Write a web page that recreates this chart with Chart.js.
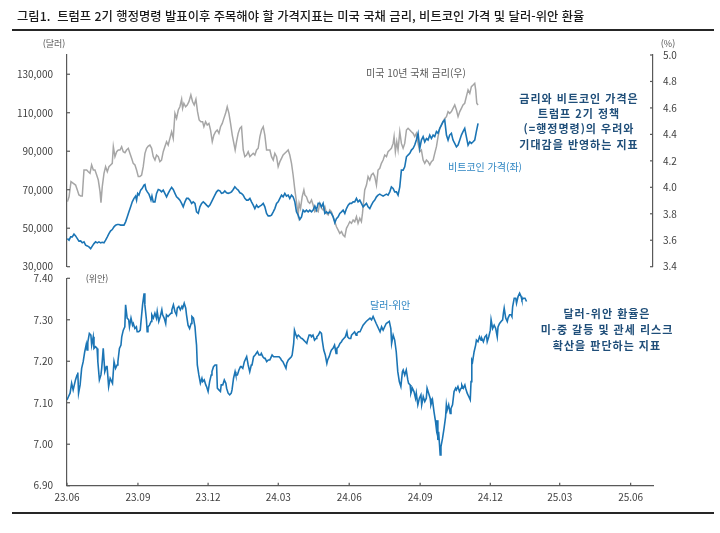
<!DOCTYPE html>
<html lang="ko"><head><meta charset="utf-8">
<title>chart</title>
<script src="https://cdn.jsdelivr.net/npm/chart.js@4.4.1/dist/chart.umd.min.js"></script>
<style>
html,body{margin:0;padding:0;background:#fff;}
#wrap{position:relative;width:720px;height:533px;overflow:hidden;background:#fff;font-family:"Noto Sans CJK KR","Noto Sans",sans-serif;}
#wrap canvas{position:absolute;left:0;top:0;}
.tx{position:absolute;white-space:nowrap;line-height:1;}
.rule{position:absolute;left:12px;width:702px;height:2px;background:#262626;}
.note{position:absolute;text-align:center;font-weight:700;font-size:11px;color:#1f4e79;letter-spacing:1px;line-height:15.4px;white-space:nowrap;transform:translateX(-50%);}
</style></head>
<body><div id="wrap">
<canvas id="cBottom" width="720" height="533"></canvas>
<canvas id="cTop" width="720" height="533"></canvas>
<div class="tx" style="left:17px;top:16px;transform:translateY(-50%);font-size:12.3px;font-weight:500;color:#1a1a1a;">그림1.&nbsp;&nbsp;트럼프 2기 행정명령 발표이후 주목해야 할 가격지표는 미국 국채 금리, 비트코인 가격 및 달러-위안 환율</div>
<div class="rule" style="top:29px"></div>
<div class="rule" style="top:512px"></div>
<div class="tx" style="left:54px;top:43px;transform:translate(-50%,-50%);font-size:9px;color:#595959;">(달러)</div>
<div class="tx" style="left:668px;top:43px;transform:translate(-50%,-50%);font-size:9px;color:#595959;">(%)</div>
<div class="tx" style="left:97px;top:278px;transform:translate(-50%,-50%);font-size:9px;color:#595959;">(위안)</div>
<div class="tx" style="left:366px;top:73px;transform:translateY(-50%);font-size:10px;color:#595959;">미국 10년 국채 금리(우)</div>
<div class="tx" style="left:448px;top:167px;transform:translateY(-50%);font-size:10px;color:#2f86c3;">비트코인 가격(좌)</div>
<div class="tx" style="left:370px;top:305px;transform:translateY(-50%);font-size:10px;color:#2f86c3;">달러-위안</div>
<div class="note" style="left:579px;top:90.6px;">금리와 비트코인 가격은<br>트럼프 2기 정책<br>(=행정명령)의 우려와<br>기대감을 반영하는 지표</div>
<div class="note" style="left:607px;top:306.4px;line-height:15.9px;">달러-위안 환율은<br>미-중 갈등 및 관세 리스크<br>확산을 판단하는 지표</div>
</div>
<script>
// ---------- Top panel: days since 2024-01-01 ----------
const btcDays = [
1.3,2.9,4.4,5.9,7.5,9.0,10.6,12.1,13.7,15.2,
16.8,18.3,19.9,21.4,23.0,24.5,26.1,27.6,29.2,30.7,
32.3,33.8,35.4,36.9,38.5,40.0,41.6,43.1,44.7,46.2,
47.8,49.3,50.9,52.4,54.0,55.5,57.1,58.6,60.2,61.7,
63.3,64.8,65.7,66.7,67.9,69.5,71.0,72.6,73.5,74.4,
75.7,77.2,78.1,79.1,80.0,81.2,82.8,84.3,85.9,87.4,
88.9,90.5,92.0,93.6,95.1,96.7,98.3,99.8,101.4,102.9,
104.5,106.0,107.6,109.1,110.7,112.2,113.8,115.3,116.9,118.4,
120.0,121.5,123.1,124.6,126.2,127.7,129.3,130.8,132.4,133.9,
135.4,137.0,138.5,140.1,141.6,143.2,144.7,146.3,147.8,149.4,
150.9,152.5,154.0,155.6,157.1,158.7,160.2,161.8,163.3,164.9,
166.4,168.0,169.5,171.1,172.6,174.2,175.7,177.3,178.8,180.4,
181.9,183.5,185.0,186.6,
188.1,189.7,191.2,192.8,194.3,195.9,197.4,199.0,200.5,202.0,
203.6,205.1,206.7,208.2,209.8,211.3,212.9,214.4,216.0,217.5,
219.1,220.6,222.2,223.7,225.3,226.8,228.4,229.9,231.5,233.0,
234.6,236.1,237.7,239.2,240.8,242.3,243.9,245.4,246.9,248.5,
250.1,251.6,253.2,254.7,256.3,257.8,259.4,260.9,262.5,264.0,
265.6,267.1,268.6,270.2,271.7,273.3,274.8,276.4,277.9,279.5,
281.0,282.6,284.1,285.7,287.2,288.8,290.3,291.9,293.4,295.0,
296.5,298.1,299.6,301.2,302.7,304.3,305.8,307.4,308.9,310.5,
312.0,313.6,315.1,316.7,318.2,319.8,321.3,322.9,324.4,325.9,
327.5,329.1,330.6,332.2,333.7,335.3,336.8,338.4,339.9,341.5,
343.0,344.6,346.1,347.7,349.2,350.8,352.3,353.9,355.4,356.9,
358.5,360.0,361.6,363.2,364.7,366.3,367.8,369.3,370.9,372.4,
374.0,375.6,377.1,378.7,380.2,381.7,383.3
];
const btcPrice = [
44600,43800,45500,45500,46900,46000,44600,43300,43400,42400,
42900,41200,40800,40300,39400,40700,42000,42900,42400,42900,
42400,42700,42400,43800,45500,47200,48600,49300,50700,51600,
51900,51900,51600,51600,51600,53300,55900,58500,61100,63700,
65500,66700,64600,68100,67200,69800,70700,72400,72700,70100,
68900,67700,66300,64600,66700,63700,63700,68100,70100,69800,
68900,69800,68100,66300,68100,69800,71200,70100,68100,66300,
65500,64600,62900,61100,63700,65500,65500,64600,62900,63700,
62900,58500,57700,61100,62900,63700,62900,62000,61100,62000,
63700,65500,67200,68900,69800,69400,68100,68400,69400,68400,
68100,68400,68900,70100,71500,70500,69800,68400,68100,67200,
65500,64600,64600,65500,63700,62000,60200,62000,60800,61500,
62000,62900,61100,57700,
56400,56400,56800,58500,60200,62900,63700,65500,67200,66300,
68100,66700,67200,65500,67200,66300,63700,58500,56800,54500,
55900,59400,58500,59400,58500,59400,58500,59400,61500,59400,
62900,62900,61100,62900,57700,58500,57700,58500,57700,55900,
52800,55000,55900,57700,58500,59400,57700,60200,62000,62900,
62900,63700,63700,65500,63700,64600,62900,61100,62000,62900,
61100,60200,62000,63700,64600,66300,67200,67700,67200,66700,
67200,67700,67200,68900,71500,70700,68900,68900,67200,71500,
80200,80200,81900,87100,88000,88900,90600,91500,93200,95800,
99300,91500,95800,97600,94900,96600,95800,98400,96600,98400,
97600,100200,99300,101900,103600,105400,106200,98400,95800,98400,
99300,95800,94100,92300,93200,95800,98400,100200,101900,97600,
93200,94900,94100,94900,95800,100200,104500
];
const ustDays = [
1.3,2.9,4.7,6.9,9.0,10.6,12.1,13.7,15.2,16.8,
19.3,20.8,22.4,23.9,25.5,27.0,28.6,30.1,31.7,32.6,
33.8,35.4,36.9,38.5,40.0,41.6,43.1,44.1,45.6,47.2,
48.7,50.3,51.8,53.3,54.9,56.4,58.0,59.5,61.1,62.6,
64.2,65.7,67.3,68.8,70.4,71.9,73.5,75.0,76.6,78.1,
79.7,81.2,82.8,84.3,85.9,87.4,88.9,90.5,92.0,93.6,
95.1,96.7,98.3,99.8,101.4,102.9,104.5,106.0,107.6,108.5,
109.7,111.3,112.8,114.4,116.2,117.8,119.3,120.9,122.4,123.9,
125.5,127.1,128.3,129.9,131.4,133.0,134.5,136.1,137.6,139.2,
140.7,142.3,143.8,145.4,146.9,148.5,150.0,151.6,153.1,154.7,
156.2,157.4,158.7,160.2,161.8,163.3,164.9,166.4,168.0,169.5,
171.1,172.6,174.2,175.7,177.3,178.8,180.4,181.9,183.5,185.0,
186.6,
188.1,189.7,191.2,192.8,194.3,195.9,197.4,199.0,200.5,202.0,
203.6,205.1,206.7,208.2,209.8,211.3,212.9,214.4,216.0,216.9,
218.2,219.7,221.3,222.2,223.7,225.3,226.8,228.4,229.9,231.5,
233.0,234.6,236.1,237.7,239.2,240.8,242.3,243.9,245.4,246.9,
248.5,250.1,251.6,253.2,254.7,256.3,257.8,259.4,260.9,262.5,
264.0,265.6,267.1,268.6,270.2,271.7,273.3,274.8,275.8,277.0,
277.9,279.5,281.0,282.6,284.1,285.7,287.2,288.8,290.3,291.9,
293.4,295.0,296.5,298.1,299.6,301.2,302.7,304.3,305.2,306.4,
307.7,308.9,310.5,312.0,313.6,315.1,316.7,318.2,319.8,321.3,
322.9,324.4,325.9,327.5,329.1,330.6,332.2,333.7,335.3,336.8,
338.4,339.9,341.5,343.0,344.6,346.1,347.7,349.2,350.8,352.3,
353.9,355.4,356.9,358.5,360.0,361.6,363.2,364.7,366.3,367.8,
369.3,370.9,372.4,374.0,375.6,377.1,378.7,380.2,381.1,382.1,
383.3
];
const ustYield = [
3.891,3.928,4.043,4.030,4.017,3.980,3.942,3.935,3.935,4.131,
4.131,4.118,4.106,4.169,4.131,4.131,4.093,4.055,3.967,3.884,
4.005,4.106,4.156,4.118,4.156,4.169,4.181,4.307,4.232,4.269,
4.282,4.282,4.307,4.269,4.262,4.282,4.295,4.257,4.219,4.181,
4.169,4.131,4.081,4.081,4.093,4.156,4.257,4.295,4.312,4.320,
4.295,4.232,4.206,4.244,4.232,4.194,4.206,4.269,4.307,4.345,
4.320,4.370,4.420,4.370,4.559,4.521,4.584,4.609,4.665,4.597,
4.635,4.609,4.622,4.647,4.698,4.647,4.622,4.665,4.572,4.509,
4.496,4.496,4.458,4.496,4.471,4.483,4.433,4.345,4.395,4.420,
4.433,4.408,4.458,4.483,4.521,4.559,4.609,4.559,4.483,4.395,
4.332,4.282,4.345,4.408,4.446,4.458,4.282,4.232,4.244,4.269,
4.232,4.244,4.257,4.244,4.282,4.295,4.383,4.433,4.458,4.395,
4.282,
4.282,4.282,4.232,4.206,4.257,4.232,4.156,4.194,4.219,4.244,
4.257,4.269,4.282,4.244,4.181,4.093,3.980,3.891,3.791,3.879,
3.841,3.928,3.980,3.942,3.928,3.891,3.879,3.904,3.866,3.816,
3.829,3.816,3.879,3.841,3.829,3.854,3.803,3.791,3.829,3.816,
3.778,3.740,3.702,3.677,3.652,3.665,3.640,3.627,3.690,3.715,
3.740,3.728,3.753,3.740,3.778,3.728,3.766,3.740,3.803,3.904,
3.980,4.017,4.081,4.055,4.093,4.106,4.081,4.017,4.131,4.144,
4.181,4.206,4.244,4.232,4.269,4.282,4.295,4.332,4.383,4.269,
4.345,4.282,4.420,4.332,4.295,4.332,4.433,4.446,4.433,4.420,
4.408,4.383,4.408,4.332,4.269,4.282,4.206,4.181,4.206,4.194,
4.169,4.194,4.206,4.257,4.307,4.383,4.446,4.471,4.496,4.521,
4.534,4.572,4.559,4.572,4.597,4.622,4.584,4.534,4.572,4.597,
4.622,4.635,4.685,4.736,4.710,4.761,4.773,4.786,4.736,4.635,
4.622
];
const btcTicks = [30000, 50000, 70000, 90000, 110000, 130000];
const ustTicks = [3.4, 3.6, 3.8, 4.0, 4.2, 4.4, 4.6, 4.8, 5.0];

// ---------- Bottom panel: days since 2023-06-01 ----------
const cnyDays = [
0,2,4,6,8,11,13,14,15,17,
19,21,23,25,26,27,29,31,32,34,
35,37,39,40,42,44,45,47,49,51,
52,54,56,58,59,61,63,65,66,68,
70,71,73,75,76,78,80,81,83,85,
86,88,90,91,93,95,96,98,100,101,
103,104,105,107,109,110,112,114,116,117,
119,121,123,124,126,128,129,131,133,135,
136,138,140,142,143,145,147,149,150,152,
154,155,157,159,161,162,164,166,167,168,
169,171,173,175,176,178,180,181,183,185,
187,188,190,192,194,195,197,199,200,202,
204,206,207,209,211,213,214,216,218,219,
221,223,225,226,228,230,232,233,235,237,
239,240,242,244,245,247,249,251,252,254,
256,257,259,261,263,264,266,268,270,272,
273,275,277,278,280,282,284,285,287,289,
291,292,294,295,297,298,300,302,304,305,
307,309,311,312,314,316,317,319,321,323,
324,326,328,330,331,333,335,337,338,340,
342,343,345,347,349,350,352,354,356,357,
359,361,363,364,366,368,369,371,373,375,
376,378,380,384,388,393,395,397,401,406,
408,410,414,418,420,421,423,425,427,429,
431,433,435,436,438,440,442,443,445,446,
448,450,452,453,455,457,459,460,462,464,
466,467,469,471,472,474,476,478,479,480,
481,482,484,485,487,489,491,492,493,495,
497,498,500,502,504,505,507,509,511,512,
514,516,517,519,521,523,524,525,526,528,
530,531,533,535,537,538,540,542,544,545,
547,549,550,552,554,556,558,559,561,563,
565,566,567,569,571,572,574,576,577,578,
580,582,583,585,587,589,590,592,594,596
];
const cnyRate = [
7.107,7.115,7.123,7.147,7.131,7.155,7.167,7.173,7.123,7.143,
7.183,7.199,7.223,7.241,7.227,7.246,7.267,7.263,7.239,7.259,
7.231,7.235,7.231,7.199,7.155,7.167,7.183,7.231,7.175,7.187,
7.187,7.139,7.159,7.151,7.147,7.199,7.183,7.191,7.199,7.231,
7.239,7.259,7.275,7.283,7.336,7.304,7.300,7.283,7.304,7.287,
7.291,7.279,7.283,7.271,7.271,7.275,7.296,7.336,7.364,7.336,
7.300,7.271,7.283,7.287,7.296,7.312,7.304,7.316,7.304,7.320,
7.296,7.308,7.324,7.312,7.304,7.291,7.312,7.308,7.312,7.316,
7.324,7.336,7.320,7.312,7.328,7.332,7.324,7.332,7.328,7.340,
7.328,7.312,7.287,7.279,7.291,7.308,7.304,7.283,7.259,7.239,
7.191,7.167,7.147,7.159,7.151,7.155,7.143,7.139,7.127,7.151,
7.167,7.175,7.187,7.191,7.191,7.135,7.131,7.127,7.143,7.143,
7.155,7.147,7.135,7.123,7.119,7.123,7.131,7.159,7.175,7.167,
7.167,7.179,7.187,7.187,7.183,7.199,7.207,7.211,7.191,7.175,
7.191,7.191,7.211,7.215,7.215,7.223,7.215,7.215,7.219,7.211,
7.207,7.207,7.199,7.203,7.203,7.207,7.215,7.211,7.211,7.211,
7.211,7.211,7.207,7.203,7.199,7.191,7.183,7.195,7.203,7.207,
7.211,7.215,7.243,7.275,7.263,7.259,7.263,7.259,7.255,7.255,
7.251,7.247,7.243,7.251,7.263,7.263,7.259,7.263,7.251,7.255,
7.259,7.263,7.271,7.267,7.251,7.227,7.215,7.195,7.203,7.211,
7.223,7.227,7.231,7.239,7.219,7.231,7.235,7.243,7.247,7.251,
7.255,7.259,7.271,7.259,7.255,7.255,7.263,7.267,7.271,7.263,
7.267,7.271,7.271,7.287,7.296,7.304,7.300,7.308,7.291,7.271,
7.283,7.275,7.291,7.296,7.279,7.243,7.263,7.251,7.223,7.175,
7.151,7.139,7.175,7.179,7.167,7.179,7.155,7.147,7.143,7.123,
7.135,7.127,7.111,7.123,7.095,7.111,7.119,7.095,7.115,7.103,
7.111,7.135,7.123,7.111,7.095,7.107,7.078,7.054,7.038,7.058,
7.010,7.030,6.974,6.994,7.014,7.038,7.066,7.095,7.082,7.095,
7.074,7.086,7.095,7.127,7.135,7.131,7.139,7.127,7.135,7.143,
7.135,7.143,7.135,7.123,7.115,7.107,7.151,7.203,7.199,7.223,
7.239,7.251,7.247,7.259,7.251,7.255,7.247,7.259,7.263,7.247,
7.259,7.275,7.300,7.279,7.287,7.279,7.259,7.283,7.291,7.296,
7.300,7.316,7.328,7.304,7.296,7.304,7.312,7.312,7.308,7.332,
7.352,7.352,7.340,7.356,7.364,7.356,7.348,7.352,7.352,7.344
];
const cnyTicks = [6.9, 7.0, 7.1, 7.2, 7.3, 7.4];
const xTickLabels = ['23.06','23.09','23.12','24.03','24.06','24.09','24.12','25.03','25.06'];

// ---------- helpers ----------
const FONT = '"Noto Sans CJK KR","Noto Sans",sans-serif';
const DAY = 86400000;
const BASE_BOTTOM = Date.UTC(2023, 5, 1);
const xTickDays = xTickLabels.map(l => {
  const [yy, mm] = l.split('.').map(Number);
  return (Date.UTC(2000 + yy, mm - 1, 1) - BASE_BOTTOM) / DAY;
});
const bottomEnd = (Date.UTC(2025, 5, 30) - BASE_BOTTOM) / DAY;
const topEnd = (Date.UTC(2025, 5, 30) - Date.UTC(2024, 0, 1)) / DAY;

const AXIS_COLOR = '#595959';
const tickMarks = {
  id: 'tickMarks',
  afterDraw(chart) {
    const ctx = chart.ctx;
    ctx.save();
    ctx.strokeStyle = AXIS_COLOR;
    ctx.lineWidth = 1.2;
    Object.values(chart.scales).forEach(s => {
      if (!s.options.display) return;
      s.ticks.forEach(t => {
        const p = s.getPixelForValue(t.value);
        ctx.beginPath();
        if (s.axis === 'x') { ctx.moveTo(p, s.top); ctx.lineTo(p, s.top - 3); }
        else if (s.position === 'left') { ctx.moveTo(s.right, p); ctx.lineTo(s.right + 3, p); }
        else { ctx.moveTo(s.left, p); ctx.lineTo(s.left - 3, p); }
        ctx.stroke();
      });
    });
    ctx.restore();
  }
};

function yAxis(position, min, max, ticks, fmt, width, pad) {
  return {
    type: 'linear', position, min, max,
    afterBuildTicks: s => { s.ticks = ticks.map(v => ({ value: v })); },
    afterFit: s => { s.width = width; },
    grid: { display: false, drawTicks: false },
    border: { display: true, color: AXIS_COLOR, width: 1.2 },
    ticks: { padding: pad, color: '#404040', font: { size: 10, family: FONT }, callback: fmt }
  };
}

Chart.defaults.font.family = FONT;

new Chart(document.getElementById('cTop'), {
  type: 'line',
  data: {
    datasets: [
      { label: '비트코인 가격(좌)', data: btcDays.map((d, i) => ({ x: d, y: btcPrice[i] })),
        yAxisID: 'yL', borderColor: '#1b75b5', borderWidth: 1.6, pointRadius: 0, tension: 0 },
      { label: '미국 10년 국채 금리(우)', data: ustDays.map((d, i) => ({ x: d, y: ustYield[i] })),
        yAxisID: 'yR', borderColor: '#a6a6a6', borderWidth: 1.5, pointRadius: 0, tension: 0 }
    ]
  },
  options: {
    responsive: false, animation: false, devicePixelRatio: 1,
    layout: { padding: { top: 55, bottom: 266.3, left: 0, right: 0 } },
    plugins: { legend: { display: false }, tooltip: { enabled: false } },
    scales: {
      x: { type: 'linear', display: false, min: 1, max: topEnd },
      yL: yAxis('left', 30000, 140000, btcTicks, v => v.toLocaleString('en-US'), 67, 14),
      yR: yAxis('right', 3.4, 5.0, ustTicks, v => v.toFixed(1), 67, 10)
    }
  },
  plugins: [tickMarks]
});

new Chart(document.getElementById('cBottom'), {
  type: 'line',
  data: {
    datasets: [
      { label: '달러-위안', data: cnyDays.map((d, i) => ({ x: d, y: cnyRate[i] })),
        yAxisID: 'y', borderColor: '#1b75b5', borderWidth: 1.6, pointRadius: 0, tension: 0 }
    ]
  },
  options: {
    responsive: false, animation: false, devicePixelRatio: 1,
    layout: { padding: { top: 278.3, bottom: 23.3, left: 0, right: 67 } },
    plugins: { legend: { display: false }, tooltip: { enabled: false } },
    scales: {
      x: {
        type: 'linear', position: 'bottom', min: 0, max: bottomEnd,
        afterBuildTicks: s => { s.ticks = xTickDays.map(v => ({ value: v })); },
        afterFit: s => { s.height = 24; },
        grid: { display: false, drawTicks: false },
        border: { display: true, color: AXIS_COLOR, width: 1.2 },
        ticks: { autoSkip: false, maxRotation: 0, padding: 6, color: '#404040',
                 font: { size: 10, family: FONT }, callback: (v, i) => xTickLabels[i] }
      },
      y: yAxis('left', 6.9, 7.4, cnyTicks, v => v.toFixed(2), 67, 14)
    }
  },
  plugins: [tickMarks]
});
</script>
</body></html>
